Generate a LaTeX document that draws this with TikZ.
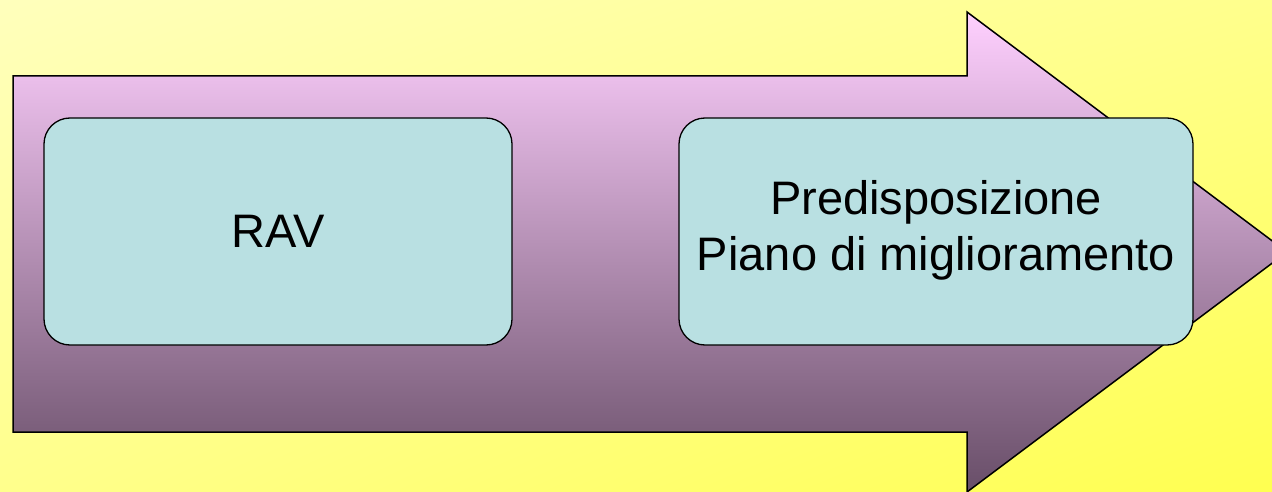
\documentclass[tikz,border=0pt]{standalone}
\usepackage{fontspec}
\setmainfont{Liberation Sans}
\usetikzlibrary{shadings}
\definecolor{bgA}{RGB}{255,255,188}
\definecolor{bgB}{RGB}{255,255,80}
\definecolor{bgM}{RGB}{255,255,140}
\definecolor{arrTop}{RGB}{255,208,255}
\definecolor{arrMid}{RGB}{196,156,196}
\definecolor{arrBot}{RGB}{104,78,104}
\definecolor{boxFill}{RGB}{185,224,226}
\tikzset{
  stagebox/.style={draw=black, line width=1.3pt, fill=boxFill, rounded corners=26pt,
    minimum height=227pt, inner sep=0pt, outer sep=0pt,
    font=\fontsize{47}{56}\selectfont}
  ,
  bigarrow/.style={draw=black, line width=1.5pt, line join=miter, top color=arrTop, middle color=arrMid, bottom color=arrBot}
}
\begin{document}
\begin{tikzpicture}[x=1pt,y=-1pt]
\useasboundingbox (0,0) rectangle (1272,492);
\clip (0,0) rectangle (1272,492);
\shade[upper left=bgA, lower right=bgB, upper right=bgM, lower left=bgM] (0,0) rectangle (1272,492);
\path[bigarrow] (13,76) -- (967,76) -- (967,12) -- (1287,252) -- (967,492) -- (967,432) -- (13,432) -- cycle;
\node[stagebox, minimum width=468pt] (rav) at (278,231.5) {RAV};
\node[stagebox, minimum width=514pt] (piano) at (936,231.5) {\raisebox{-3pt}{\begin{tabular}{@{}c@{}}Predisposizione\\Piano di miglioramento\end{tabular}}};
\end{tikzpicture}
\end{document}
